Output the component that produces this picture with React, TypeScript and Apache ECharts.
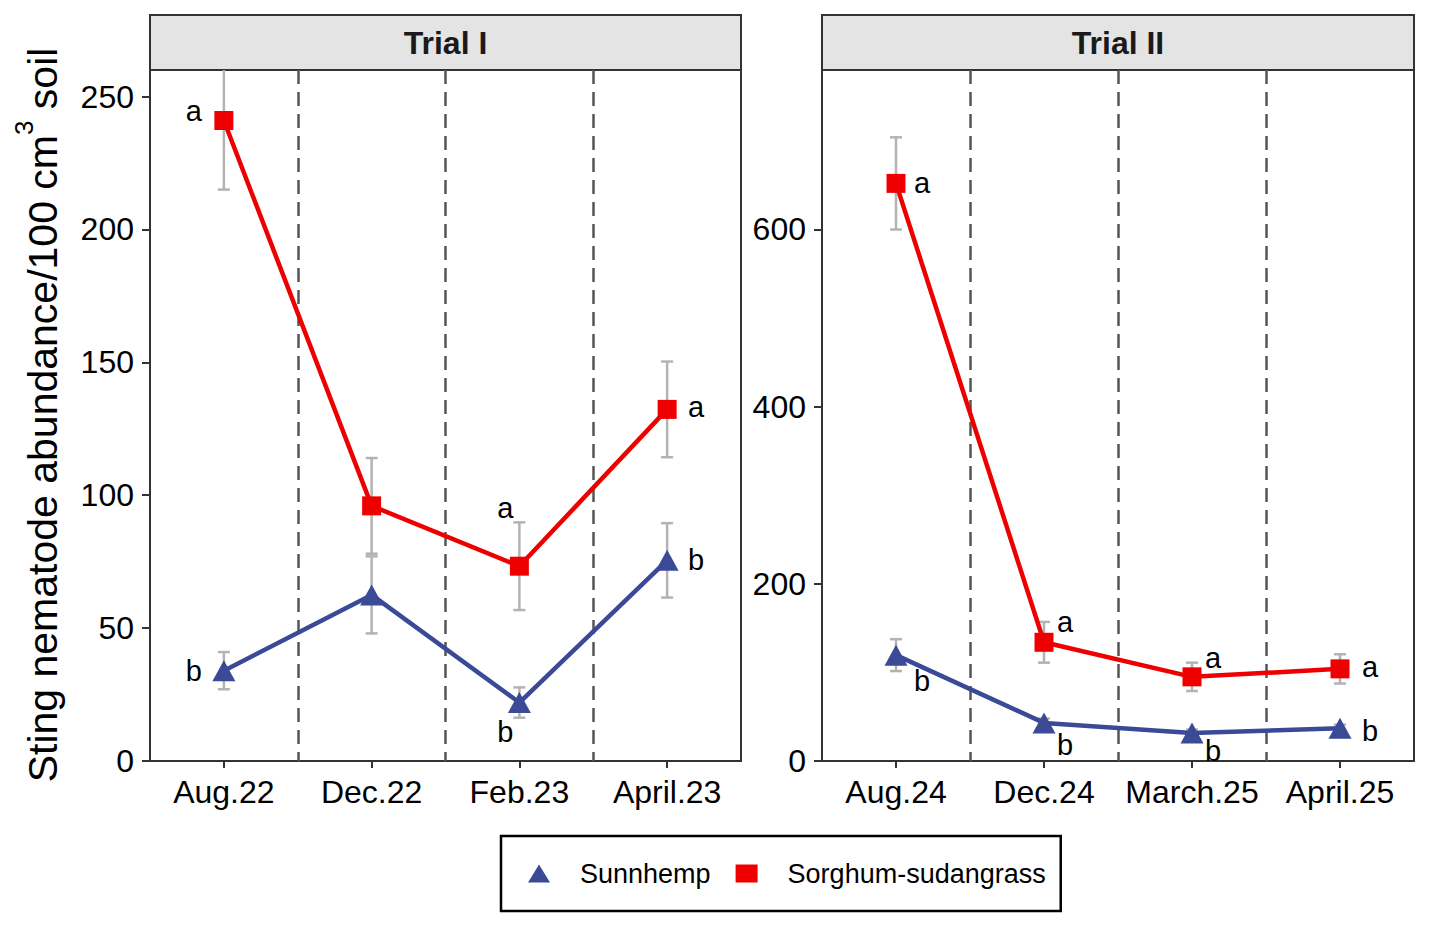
import React, { useEffect, useRef } from "react";
import * as echarts from "echarts";

const categoriesI = ["Aug.22", "Dec.22", "Feb.23", "April.23"];
const categoriesII = ["Aug.24", "Dec.24", "March.25", "April.25"];

const sunnI = [34, 62.5, 22, 75.5];
const sunnISe = [7, 14.5, 5.7, 14];
const sorgI = [241, 96, 73.3, 132.3];
const sorgISe = [26, 18, 16.5, 18];

const sunnII = [119.5, 43, 31.5, 37];
const sunnIISe = [18, 5, 4, 4];
const sorgII = [652, 134, 95, 104];
const sorgIISe = [52, 23, 16, 16.5];

const sunnLettersI = ["b", "", "b", "b"];
const sorgLettersI = ["a", "", "a", "a"];
const sunnLettersII = ["b", "b", "b", "b"];
const sorgLettersII = ["a", "a", "a", "a"];

const yTicksI = { min: 0, max: 260, interval: 50 };
const yTicksII = { min: 0, max: 780, interval: 200 };

const FONT = '"Liberation Sans", Arial, sans-serif';
const RED = "#EE0000";
const BLUE = "#3B4A97";
const ERR = "#B3B3B3";

// label offsets (pixels) relative to each marker
const sorgOffI = [[-30, -9], [0, 0], [-14, -58], [29, -2]];
const sunnOffI = [[-30, 0], [0, 0], [-14, 29], [29, 0]];
const sorgOffII = [[26, 0], [21, -20], [21, -19], [30, -2]];
const sunnOffII = [[26, 26], [21, 22], [21, 18], [30, 3]];

function errData(means: number[], ses: number[]) {
  return means.map((m, i) => [i, m - ses[i], m + ses[i]]);
}

function renderErr(params: any, api: any) {
  const i = api.value(0);
  const lo = api.value(1);
  const hi = api.value(2);
  const cs = params.coordSys;
  const pLo = api.coord([i, lo]);
  const pHi = api.coord([i, hi]);
  const top = Math.max(pHi[1], cs.y);
  const bottom = Math.min(pLo[1], cs.y + cs.height);
  const x = pLo[0];
  const hw = 6;
  const style = { stroke: ERR, lineWidth: 2.5 };
  const children: any[] = [
    { type: "line", shape: { x1: x, y1: top, x2: x, y2: bottom }, style },
    { type: "line", shape: { x1: x - hw, y1: pLo[1], x2: x + hw, y2: pLo[1] }, style },
  ];
  if (pHi[1] >= cs.y) {
    children.push({ type: "line", shape: { x1: x - hw, y1: pHi[1], x2: x + hw, y2: pHi[1] }, style });
  }
  return { type: "group", children };
}

function pointData(values: number[], letters: string[], offs: number[][]) {
  return values.map((v, i) => ({
    value: v,
    label: letters[i]
      ? {
          show: true,
          formatter: letters[i],
          position: "inside",
          offset: offs[i],
          fontSize: 29,
          color: "#000",
          fontFamily: FONT,
          textBorderWidth: 0,
        }
      : { show: false },
  }));
}

export default function App() {
  const ref = useRef<HTMLDivElement>(null);
  useEffect(() => {
    if (!ref.current) return;
    const chart = echarts.init(ref.current, null, { renderer: "svg" });

    const xAxisBase = (data: string[], idx: number) => ({
      type: "category",
      gridIndex: idx,
      data,
      boundaryGap: true,
      axisLine: { show: false },
      axisTick: { show: true, interval: 0, alignWithLabel: true, length: 7, lineStyle: { color: "#333", width: 2 } },
      axisLabel: { interval: 0, fontSize: 32, color: "#000", fontFamily: FONT, margin: 15 },
      splitLine: {
        show: true,
        interval: 0,
        showMinLine: false,
        showMaxLine: false,
        lineStyle: { color: "#555", width: 2.5, type: [14, 8] },
      },
    });
    const yAxisBase = (t: any, idx: number) => ({
      type: "value",
      gridIndex: idx,
      min: t.min,
      max: t.max,
      interval: t.interval,
      axisLine: { show: false },
      axisTick: { show: true, length: 8, lineStyle: { color: "#333", width: 2 } },
      axisLabel: { fontSize: 32, color: "#000", fontFamily: FONT, margin: 16, showMaxLabel: false },
      splitLine: { show: false },
    });

    const grids = [
      { left: 150, top: 70, width: 591, height: 691 },
      { left: 822, top: 70, width: 592, height: 691 },
    ];

    const option: any = {
      animation: false,
      backgroundColor: "#fff",
      grid: grids.map((g) => ({ ...g, show: true, borderColor: "#333", borderWidth: 2, backgroundColor: "transparent" })),
      xAxis: [xAxisBase(categoriesI, 0), xAxisBase(categoriesII, 1)],
      yAxis: [yAxisBase(yTicksI, 0), yAxisBase(yTicksII, 1)],
      legend: {
        left: 501,
        top: 836,
        orient: "horizontal",
        borderColor: "#000",
        borderWidth: 2.5,
        padding: [24, 15, 24, 27],
        itemWidth: 22,
        itemHeight: 18,
        itemGap: 25,
        symbolKeepAspect: false,
        textStyle: { fontSize: 27, color: "#000", fontFamily: FONT, padding: [0, 0, 0, 25] },
        data: [
          { name: "Sunnhemp", icon: "triangle" },
          { name: "Sorghum-sudangrass", icon: "rect" },
        ],
      },
      graphic: [
        {
          type: "rect",
          shape: { x: 150, y: 15, width: 591, height: 55 },
          style: { fill: "#E4E4E4", stroke: "#333", lineWidth: 2 },
        },
        {
          type: "text",
          x: 445.5,
          y: 43,
          style: { text: "Trial I", fontSize: 32, fontWeight: "bold", fontFamily: FONT, fill: "#1a1a1a", align: "center", verticalAlign: "middle" },
        },
        {
          type: "rect",
          shape: { x: 822, y: 15, width: 592, height: 55 },
          style: { fill: "#E4E4E4", stroke: "#333", lineWidth: 2 },
        },
        {
          type: "text",
          x: 1118,
          y: 43,
          style: { text: "Trial II", fontSize: 32, fontWeight: "bold", fontFamily: FONT, fill: "#1a1a1a", align: "center", verticalAlign: "middle" },
        },
        {
          type: "text",
          x: 37,
          y: 415,
          rotation: Math.PI / 2,
          style: {
            text: "{m|Sting nematode abundance/100 cm}{s|3}{m| soil}",
            align: "center",
            verticalAlign: "middle",
            fill: "#000",
            rich: {
              m: { fontSize: 41, fontFamily: FONT, fill: "#000", lineHeight: 52, verticalAlign: "bottom" },
              s: { fontSize: 26, fontFamily: FONT, fill: "#000", lineHeight: 52, verticalAlign: "top" },
            },
          },
        },
      ],
      series: [
        {
          type: "custom",
          name: "errSunnI",
          xAxisIndex: 0,
          yAxisIndex: 0,
          renderItem: renderErr,
          encode: { x: 0, y: [1, 2] },
          data: errData(sunnI, sunnISe),
          z: 1,
          clip: false,
        },
        {
          type: "custom",
          name: "errSorgI",
          xAxisIndex: 0,
          yAxisIndex: 0,
          renderItem: renderErr,
          encode: { x: 0, y: [1, 2] },
          data: errData(sorgI, sorgISe),
          z: 1,
          clip: false,
        },
        {
          type: "custom",
          name: "errSunnII",
          xAxisIndex: 1,
          yAxisIndex: 1,
          renderItem: renderErr,
          encode: { x: 0, y: [1, 2] },
          data: errData(sunnII, sunnIISe),
          z: 1,
          clip: false,
        },
        {
          type: "custom",
          name: "errSorgII",
          xAxisIndex: 1,
          yAxisIndex: 1,
          renderItem: renderErr,
          encode: { x: 0, y: [1, 2] },
          data: errData(sorgII, sorgIISe),
          z: 1,
          clip: false,
        },
        {
          type: "line",
          name: "Sunnhemp",
          xAxisIndex: 0,
          yAxisIndex: 0,
          data: pointData(sunnI, sunnLettersI, sunnOffI),
          symbol: "triangle",
          symbolSize: [23, 21],
          itemStyle: { color: BLUE },
          lineStyle: { color: BLUE, width: 4.5 },
          z: 2,
        },
        {
          type: "line",
          name: "Sorghum-sudangrass",
          xAxisIndex: 0,
          yAxisIndex: 0,
          data: pointData(sorgI, sorgLettersI, sorgOffI),
          symbol: "rect",
          symbolSize: 19,
          itemStyle: { color: RED },
          lineStyle: { color: RED, width: 4.5 },
          z: 3,
        },
        {
          type: "line",
          name: "Sunnhemp",
          xAxisIndex: 1,
          yAxisIndex: 1,
          data: pointData(sunnII, sunnLettersII, sunnOffII),
          symbol: "triangle",
          symbolSize: [23, 21],
          itemStyle: { color: BLUE },
          lineStyle: { color: BLUE, width: 4.5 },
          z: 2,
        },
        {
          type: "line",
          name: "Sorghum-sudangrass",
          xAxisIndex: 1,
          yAxisIndex: 1,
          data: pointData(sorgII, sorgLettersII, sorgOffII),
          symbol: "rect",
          symbolSize: 19,
          itemStyle: { color: RED },
          lineStyle: { color: RED, width: 4.5 },
          z: 3,
        },
      ],
    };
    chart.setOption(option);
    return () => chart.dispose();
  }, []);
  return (
    <div
      ref={ref}
      style={{ position: "fixed", left: 0, top: 0, width: 1430, height: 927, background: "#fff" }}
    />
  );
}
